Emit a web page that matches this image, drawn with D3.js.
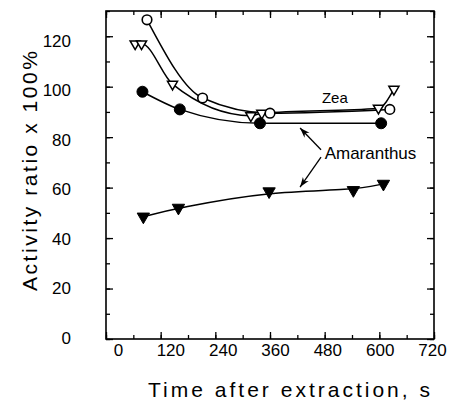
<!DOCTYPE html>
<html><head><meta charset="utf-8">
<script src="https://cdn.jsdelivr.net/npm/d3@7"></script>
<style>body{margin:0;background:#fff}svg{display:block}</style>
</head><body><svg id="c" width="460" height="413"></svg>
<script>
// ---- data ----
const xTicks = [0,120,240,360,480,600,720];
const yTicks = [0,20,40,60,80,100,120];
const zeaCircleT = [90,212,360,623];
const zeaCircleV = [126.5,95.5,89.5,91];
const zeaTriT = [64,78,146,318,342,598,632];
const zeaTriV = [117,117,101,88.5,89.5,91.5,99];
const amaCircleT = [80,162,338,604];
const amaCircleV = [98,91,85.5,85.5];
const amaTriT = [82,159,358,543,609];
const amaTriV = [48.5,52,58.5,59,61.5];
const labels = ["Zea","Amaranthus"];
const xTitle = "Time after extraction, s";
const yTitle = "Activity ratio x 100%";

// ---- layout ----
const W=460,H=413, L=106,R=434,T=11,B=339;
const svg=d3.select("#c");
const x=d3.scaleLinear().domain([0,720]).range([L,R]);
const y=d3.scaleLinear().domain([0,130]).range([B,T]);
// tick labels in the original are set slightly off the tick marks
const xLab=d3.scaleLinear().domain([0,720]).range([118,432]);
const yLab=d3.scaleLinear().domain([0,120]).range([338,41]);
const font="'Liberation Sans', Arial, sans-serif";

// ticks (inward)
function axis(gen, sc, vals, size, transform, labelsOn){
  const g=svg.append("g").attr("transform",transform)
   .call(gen(sc).tickValues(vals).tickSizeInner(-size).tickSizeOuter(0)
     .tickFormat(labelsOn? d3.format("d"): ""));
  g.select(".domain").remove();
  g.selectAll(".tick line").attr("stroke","#000").attr("stroke-width",1.3);
  return g;
}
const xMinor=d3.range(0,721,60), yMinor=d3.range(0,131,10);
axis(d3.axisBottom,x,xMinor,4,`translate(0,${B})`,false);
axis(d3.axisTop,x,xMinor,4,`translate(0,${T})`,false);
axis(d3.axisLeft,y,yMinor,4,`translate(${L},0)`,false);
axis(d3.axisRight,y,yMinor,4,`translate(${R},0)`,false);
const gx=axis(d3.axisBottom,x,xTicks,7,`translate(0,${B})`,true);
axis(d3.axisTop,x,xTicks,7,`translate(0,${T})`,false);
const gy=axis(d3.axisLeft,y,yTicks,7,`translate(${L},0)`,true);
axis(d3.axisRight,y,yTicks,7,`translate(${R},0)`,false);
gx.selectAll(".tick text").attr("font-family",font).attr("font-size",17).attr("fill","#000")
  .attr("y",5).attr("x",d=>xLab(d)-x(d));
gy.selectAll(".tick text").attr("font-family",font).attr("font-size",17).attr("fill","#000")
  .attr("x",-35).attr("y",d=>yLab(d)-y(d));

// frame
svg.append("rect").attr("x",L).attr("y",T).attr("width",R-L).attr("height",B-T)
  .attr("fill","none").attr("stroke","#000").attr("stroke-width",1.6);

// lines
const lineM=d3.line().x(d=>x(d[0])).y(d=>y(d[1])).curve(d3.curveMonotoneX);
const lineB=d3.line().x(d=>x(d[0])).y(d=>y(d[1])).curve(d3.curveBasis);
function series(ts,vs){return ts.map((t,i)=>[t,vs[i]]);}
const zc=series(zeaCircleT,zeaCircleV), zt=series(zeaTriT,zeaTriV),
      ac=series(amaCircleT,amaCircleV), at=series(amaTriT,amaTriV);
[[zc,lineM],[zt,lineM],[ac,lineM],[at,lineB]].forEach(([s,ln])=>{
  svg.append("path").attr("d",ln(s)).attr("fill","none").attr("stroke","#000").attr("stroke-width",1.5);
});

// markers
const triDown=d3.symbol().type(d3.symbolTriangle);
function circles(s,filled){
  svg.append("g").selectAll("circle").data(s).join("circle")
   .attr("cx",d=>x(d[0])).attr("cy",d=>y(d[1])).attr("r",filled?5.5:4.8)
   .attr("fill",filled?"#000":"#fff").attr("stroke","#000").attr("stroke-width",filled?1:1.6);
}
function tris(s,filled){
  svg.append("g").selectAll("path").data(s).join("path")
   .attr("d",triDown.size(filled?66:44)())
   .attr("transform",d=>`translate(${x(d[0])},${y(d[1])}) rotate(180)`)
   .attr("fill",filled?"#000":"#fff").attr("stroke","#000").attr("stroke-width",filled?1:1.5);
}
tris(zt,false); circles(zc,false); circles(ac,true); tris(at,true);

// annotations
svg.append("text").attr("x",x(474)).attr("y",y(93.5)).text(labels[0])
  .attr("font-family",font).attr("font-size",15).attr("fill","#000");
svg.append("text").attr("x",x(480)).attr("y",y(71.3)).text(labels[1])
  .attr("font-family",font).attr("font-size",17).attr("fill","#000");
svg.append("defs").append("marker").attr("id","ah").attr("viewBox","-10 -5 10 10")
  .attr("refX",0).attr("refY",0).attr("markerWidth",10).attr("markerHeight",10)
  .attr("markerUnits","userSpaceOnUse").attr("orient","auto")
  .append("path").attr("d","M0,0L-10,-3.5L-7,0L-10,3.5Z").attr("fill","#000");
[[[472,75],[426,83.6]],[[472,72.1],[426,60.2]]].forEach(a=>{
  svg.append("line").attr("x1",x(a[0][0])).attr("y1",y(a[0][1]))
    .attr("x2",x(a[1][0])).attr("y2",y(a[1][1]))
    .attr("stroke","#000").attr("stroke-width",1.3).attr("marker-end","url(#ah)");
});

// titles
svg.append("text").attr("x",289).attr("y",397).attr("text-anchor","middle")
  .attr("font-family",font).attr("font-size",21).attr("fill","#000")
  .attr("textLength",282).attr("lengthAdjust","spacing").text(xTitle);
svg.append("text").attr("transform","translate(37,171) rotate(-90)").attr("text-anchor","middle")
  .attr("font-family",font).attr("font-size",21).attr("fill","#000")
  .attr("textLength",240).attr("lengthAdjust","spacing").text(yTitle);
</script></body></html>
